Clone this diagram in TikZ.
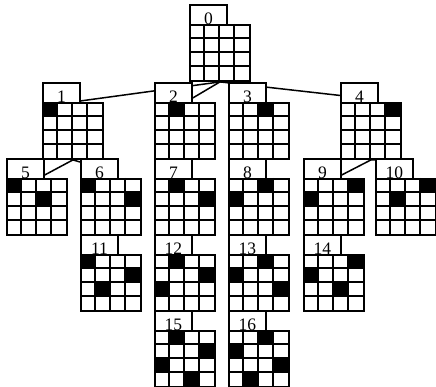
\documentclass[tikz,border=0pt]{standalone}
\usepackage{fontspec}
\setmainfont{Liberation Serif}
\usetikzlibrary{calc,backgrounds}
\tikzset{
  lbl/.style={draw, fill=white, line width=1.9pt, minimum width=37pt, minimum height=20pt, inner sep=0pt, anchor=north west},
  gridbox/.style={draw, fill=white, line width=1.9pt, minimum width=60pt, minimum height=56pt, inner sep=0pt, anchor=north west},
  gridframe/.style={draw, line width=1.9pt, minimum width=60pt, minimum height=56pt, inner sep=0pt, anchor=north west},
  num/.style={inner sep=0pt, anchor=base, font=\fontsize{17.5}{18}\selectfont},
  gline/.style={line width=1.9pt},
  treeedge/.style={line width=1.5pt},
  queen/.style={fill=black},
}
\newcommand{\qnode}[5][]{%
  \node[gridbox] (#2g) at (#3,#4+20) {};
  \def\qlist{#1}%
  \ifx\qlist\empty\else
    \foreach \r/\c in {#1} {\fill[queen] ($(#2g.north west)+(\c*15-15,\r*14-14)$) rectangle +(15,14);}
  \fi
  \foreach \i in {1,2,3} {
    \draw[gline] ($(#2g.north west)+(\i*15,0)$) -- +(0,56);
    \draw[gline] ($(#2g.north west)+(0,\i*14)$) -- +(60,0);
  }
  \node[gridframe] (#2f) at (#3,#4+20) {};
  \node[lbl] (#2) at (#3,#4) {};
  \node[num] (#2n) at ($(#2.south)+(0,-1)$) {#5};
}
\begin{document}
\begin{tikzpicture}[x=1pt,y=-1pt]
\useasboundingbox (0,0) rectangle (436,387);
\qnode{n0}{189}{4}{0}
\qnode[1/1]{n1}{42}{82}{1}
\qnode[1/2]{n2}{154}{82}{2}
\qnode[1/3]{n3}{228}{82}{3}
\qnode[1/4]{n4}{340}{82}{4}
\qnode[1/1,2/3]{n5}{6}{158}{5}
\qnode[1/1,2/4]{n6}{80}{158}{6}
\qnode[1/2,2/4]{n7}{154}{158}{7}
\qnode[1/3,2/1]{n8}{228}{158}{8}
\qnode[1/4,2/1]{n9}{303}{158}{9}
\qnode[1/4,2/2]{n10}{375}{158}{10}
\qnode[1/1,2/4,3/2]{n11}{80}{234}{11}
\qnode[1/2,2/4,3/1]{n12}{154}{234}{12}
\qnode[1/3,2/1,3/4]{n13}{228}{234}{13}
\qnode[1/4,2/1,3/3]{n14}{303}{234}{14}
\qnode[1/2,2/4,3/1,4/3]{n15}{154}{310}{15}
\qnode[1/3,2/1,3/4,4/2]{n16}{228}{310}{16}
\begin{pgfonlayer}{background}
\draw[treeedge] (n0g.south) -- ([yshift=3pt]n1.south east);
\draw[treeedge] (n0g.south) -- ([yshift=6pt]n2.south east);
\draw[treeedge] (n0g.south) -- (n3.north west);
\draw[treeedge] (n0g.south) -- ([yshift=-2.5pt]n4.west);
\draw[treeedge] (n1g.south) -- ([yshift=5pt]n5.south east);
\draw[treeedge] (n1g.south) -- ([yshift=-4pt]n6.north west);
\draw[treeedge] (n4g.south) -- ([yshift=5pt]n9.south east);
\draw[treeedge] (n4g.south) -- ([yshift=-2pt]n10.north west);
\end{pgfonlayer}
\end{tikzpicture}
\end{document}
